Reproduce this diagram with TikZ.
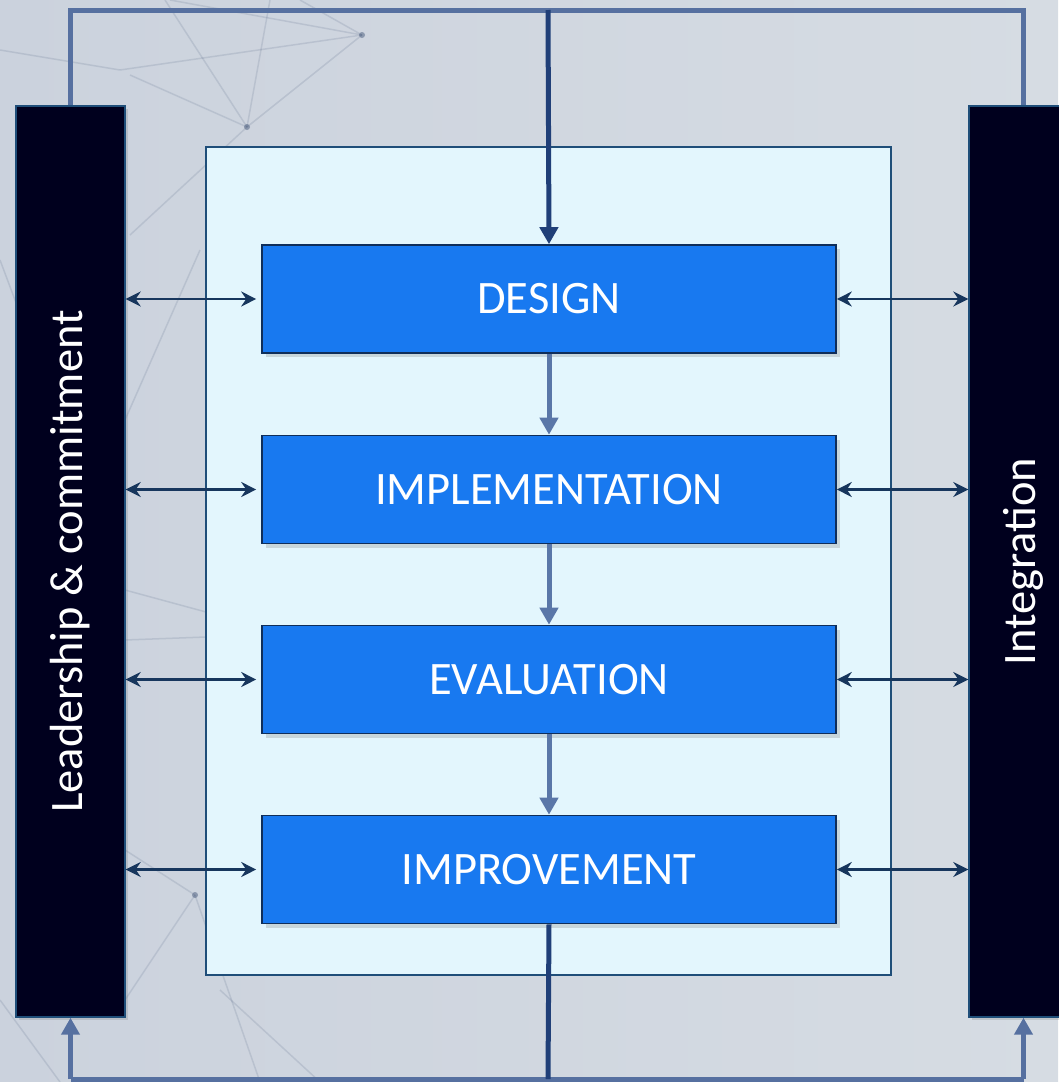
\documentclass[tikz,border=0pt]{standalone}
\usepackage{fontspec}
\setmainfont{Carlito}
\usetikzlibrary{arrows.meta,shadows,calc}
\definecolor{bgL}{HTML}{CBD2DD}
\definecolor{bgR}{HTML}{D6DCE3}
\definecolor{barfill}{HTML}{00001E}
\definecolor{barline}{HTML}{1F4E79}
\definecolor{stagefill}{HTML}{1879F0}
\definecolor{stageline}{HTML}{0F2E5A}
\definecolor{framefill}{HTML}{E3F6FD}
\definecolor{frameline}{HTML}{1F4E79}
\definecolor{linkcol}{HTML}{17365D}
\definecolor{flowcol}{HTML}{5A77A8}
\definecolor{loopcol}{HTML}{5670A0}
\definecolor{maincol}{HTML}{203F78}
\definecolor{netcol}{HTML}{3A4E72}
\tikzset{
  sidebar/.style={draw=barline, line width=1.4pt, fill=barfill, minimum width=109pt, minimum height=911pt, inner sep=0pt,
    drop shadow={shadow xshift=3pt, shadow yshift=-3pt, opacity=0.2, fill=black!60},
    text=white, font=\fontsize{46.5}{50}\selectfont},
  stage/.style={draw=stageline, line width=1.6pt, fill=stagefill, minimum width=574pt, minimum height=108pt, inner sep=0pt,
    drop shadow={shadow xshift=4pt, shadow yshift=-4pt, opacity=0.22, fill=black!60},
    text=white, font=\fontsize{46.5}{50}\selectfont},
  framebox/.style={draw=frameline, line width=1.4pt, fill=framefill, minimum width=685pt, minimum height=828pt, inner sep=0pt},
  link/.style={draw=linkcol, line width=2.2pt, {Stealth[length=15pt,width=15pt,inset=5pt]}-{Stealth[length=15pt,width=15pt,inset=5pt]}},
  flow/.style={draw=flowcol, line width=5pt, -{Triangle[length=17pt,width=18pt]}},
  loopline/.style={draw=loopcol, line width=5pt},
  looparrow/.style={draw=loopcol, line width=5pt, -{Triangle[length=17pt,width=18pt]}},
  mainline/.style={draw=maincol, line width=5pt},
  mainarrow/.style={draw=maincol, line width=5pt, -{Triangle[length=17pt,width=18pt]}},
  net/.style={draw=netcol, line width=1.5pt, opacity=0.14},
}
\begin{document}
\begin{tikzpicture}[x=1pt,y=-1pt]
\useasboundingbox (0,0) rectangle (1058,1082);
\shade[left color=bgL, right color=bgR] (0,0) rectangle (1058,1082);
% faint background network
\draw[net] (362,35) -- (247,127);
\draw[net] (362,35) -- (170,0);
\draw[net] (362,35) -- (300,0);
\draw[net] (362,35) -- (120,70);
\draw[net] (247,127) -- (165,0);
\draw[net] (247,127) -- (270,0);
\draw[net] (247,127) -- (130,235);
\draw[net] (247,127) -- (130,75);
\draw[net] (120,70) -- (0,50);
\draw[net] (200,250) -- (125,420);
\draw[net] (0,260) -- (60,420);
\draw[net] (195,895) -- (125,1000);
\draw[net] (195,895) -- (125,850);
\draw[net] (195,895) -- (260,1082);
\draw[net] (0,1000) -- (60,1082);
\draw[net] (125,590) -- (206,612);
\draw[net] (125,640) -- (206,637);
\draw[net] (220,990) -- (320,1082);
\fill[netcol, opacity=0.45] (362,35) circle (3pt) (247,127) circle (3pt) (195,895) circle (3pt);

% main frame
\node[framebox] (frame) at (548.5,561) {};

% side bars
\node[sidebar] (lead) at (70.5,561.5) {\rotatebox{90}{Leadership \& commitment}};
\node[sidebar] (integ) at (1023.5,561.5) {\rotatebox{90}{Integration}};

% stages
\node[stage] (design) at (549,299) {DESIGN};
\node[stage] (impl) at (549,489.5) {IMPLEMENTATION};
\node[stage] (eval) at (549,679.5) {EVALUATION};
\node[stage] (impr) at (549,869.5) {IMPROVEMENT};

% flow between stages
\draw[flow] (design.south) -- (impl.north);
\draw[flow] (impl.south) -- (eval.north);
\draw[flow] (eval.south) -- (impr.north);

% top loop
\coordinate (topL) at (70.5,10);
\coordinate (topR) at (1023.5,10);
\coordinate (topM) at (548,10);
\draw[loopline] (lead.north) -- (topL) -- (topR) -- (integ.north);
\draw[mainarrow] (topM) -- (design.north);

% bottom loop
\coordinate (botL) at (70.5,1079);
\coordinate (botR) at (1023.5,1079);
\coordinate (botM) at (548,1079);
\draw[loopline] (botL) -- (botR);
\draw[looparrow] (botL) -- (lead.south);
\draw[looparrow] (botR) -- (integ.south);
\draw[mainline] (impr.south) -- (botM);

% links to side bars
\draw[link, shorten >=5pt] (design.west -| lead.east) -- (design.west);
\draw[link, shorten >=5pt] (impl.west -| lead.east) -- (impl.west);
\draw[link, shorten >=5pt] (eval.west -| lead.east) -- (eval.west);
\draw[link, shorten >=5pt] (impr.west -| lead.east) -- (impr.west);
\draw[link] (design.east) -- (design.east -| integ.west);
\draw[link] (impl.east) -- (impl.east -| integ.west);
\draw[link] (eval.east) -- (eval.east -| integ.west);
\draw[link] (impr.east) -- (impr.east -| integ.west);
\end{tikzpicture}
\end{document}
